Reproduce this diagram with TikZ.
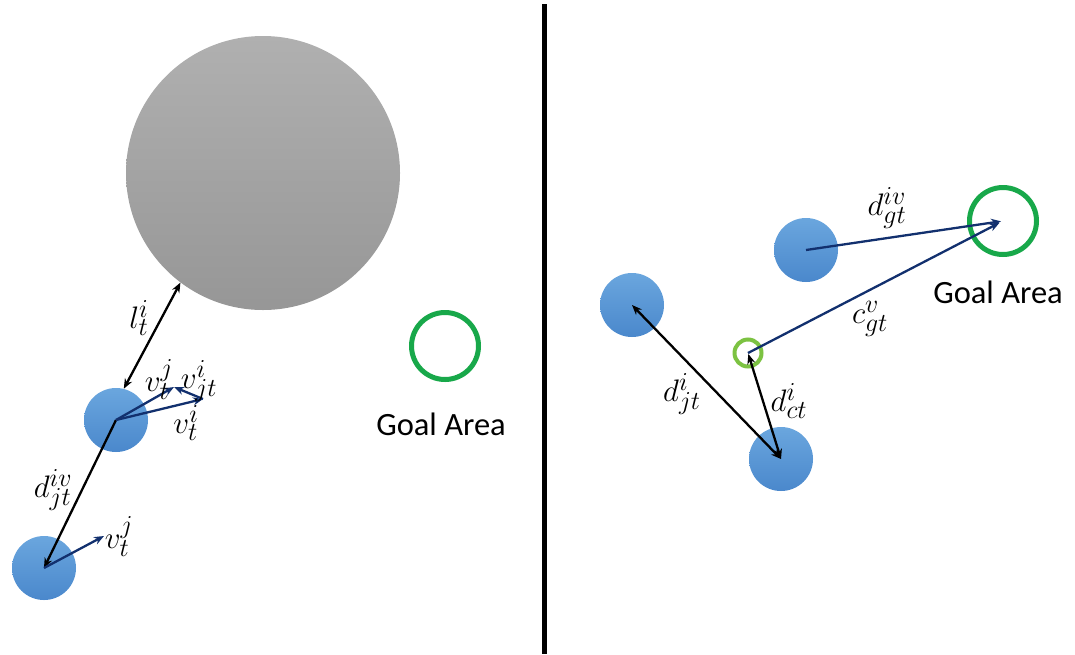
\documentclass[tikz,border=0pt]{standalone}
\usepackage{fontspec}
\newfontfamily\goalfont{Carlito}
\usetikzlibrary{arrows.meta}
\definecolor{navy}{HTML}{12306E}
\definecolor{goalgreen}{HTML}{18A84A}
\definecolor{lightgreen}{HTML}{7CC242}
\definecolor{agenttop}{HTML}{6AA6DE}
\definecolor{agentbot}{HTML}{4A88CC}
\tikzset{
  agent/.style={circle, inner sep=0pt, minimum size=64pt, top color=agenttop, bottom color=agentbot, draw=none},
  obstacle/.style={circle, inner sep=0pt, minimum size=274pt, top color=black!31, bottom color=black!41, draw=none},
  goal/.style={circle, inner sep=0pt, minimum size=67pt, draw=goalgreen, line width=5pt},
  subgoal/.style={circle, inner sep=0pt, minimum size=27pt, draw=lightgreen, line width=4pt},
  blackarrow/.style={line width=2.3pt, black, -{Stealth[length=10pt,width=8pt]}},
  blackdouble/.style={line width=2.3pt, black, {Stealth[length=10pt,width=8pt]}-{Stealth[length=10pt,width=8pt]}},
  navyarrow/.style={line width=2.3pt, navy, -{Stealth[length=10pt,width=8pt]}},
  lbl/.style={inner sep=0pt, scale=1.25, font=\fontsize{24.88}{30}\selectfont},
  goallbl/.style={inner sep=0pt, font=\goalfont\fontsize{32.5}{36}\selectfont},
}
\begin{document}
\begin{tikzpicture}[x=1pt, y=-1pt]
\useasboundingbox (0,0) rectangle (1075,654);
% divider
\draw[line width=5pt] (544.5,4) coordinate (dtop) -- (544.5,654) coordinate (dbot);
% left panel
\node[obstacle] (obs) at (263,173) {};
\node[agent] (a1) at (116,420) {};
\node[agent] (a2) at (44,568) {};
\node[goal] (g1) at (445,346) {};
\node[goallbl] (g1t) at (441,424) {Goal Area};
\coordinate (vj) at (174,387);
\coordinate (vi) at (203,399);
\coordinate (vj2) at (104,536);
\draw[blackdouble] (obs.233) -- (a1.76);
\draw[blackarrow] (a1.center) -- (a2.center);
\draw[navyarrow] (a1.center) -- (vj);
\draw[navyarrow] (a1.center) -- (vi);
\draw[navyarrow] (vi) -- (vj);
\draw[navyarrow] (a2.center) -- (vj2);
\node[lbl] (llt) at (139,318) {$l_t^i$};
\node[lbl] (lvj) at (159,379) {$v_t^j$};
\node[lbl] (lvji) at (199,381) {$v_{jt}^i$};
\node[lbl] (lvi) at (186,423) {$v_t^i$};
\node[lbl] (ldjt) at (53,490) {$d_{jt}^{iv}$};
\node[lbl] (lvj2) at (119,536) {$v_t^j$};
% right panel
\node[agent] (b1) at (806,250) {};
\node[agent] (b2) at (632,305) {};
\node[agent] (b3) at (781,459) {};
\node[goal] (g2) at (1003,221) {};
\node[subgoal] (c) at (748,353) {};
\node[goallbl] (g2t) at (998,292) {Goal Area};
\draw[navyarrow, shorten >=2pt] (b1.center) -- (g2.center);
\draw[navyarrow, shorten >=4pt] (c.center) -- (g2.center);
\draw[blackdouble] (b2.center) -- (b3.center);
\draw[blackdouble, shorten >=1pt] (b3.center) -- (c.center);
\node[lbl] (ldgt) at (887,208) {$d_{gt}^{iv}$};
\node[lbl] (lcgt) at (870,319) {$c_{gt}^{v}$};
\node[lbl] (ldjti) at (682,394) {$d_{jt}^{i}$};
\node[lbl] (ldct) at (789,401) {$d_{ct}^{i}$};
\end{tikzpicture}
\end{document}
